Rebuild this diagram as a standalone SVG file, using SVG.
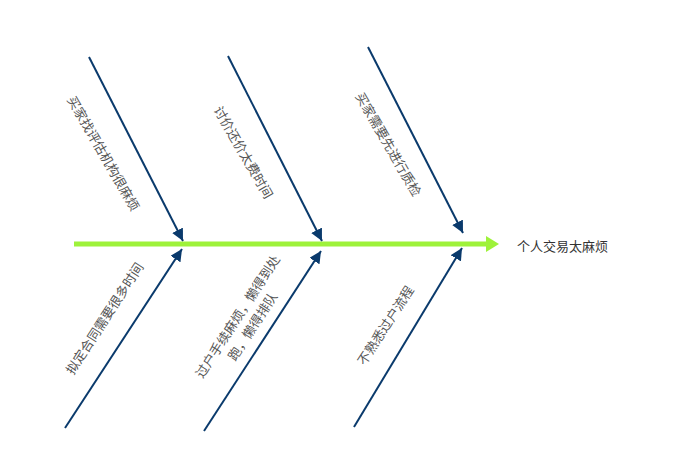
<svg xmlns="http://www.w3.org/2000/svg" width="674" height="463" viewBox="0 0 674 463">
<style>
.b{stroke:#0a3a6c;stroke-width:2;fill:none;marker-end:url(#ah)}
.t{font-family:"Noto Sans CJK SC","Liberation Sans",sans-serif;font-size:13px;fill:#555;text-anchor:middle;dominant-baseline:central}
</style>
<defs>
<marker id="ah" viewBox="0 0 10 10" refX="10" refY="5" markerWidth="6" markerHeight="6" orient="auto" markerUnits="strokeWidth"><path d="M0,0L10,5L0,10z" fill="#0a3a6c"/></marker>
</defs>
<rect width="674" height="463" fill="#fff"/>
<g id="connectors">
<line x1="74" y1="244" x2="488" y2="244" stroke="#9ef23a" stroke-width="5"/>
<path d="M486,236L499,244L486,252z" fill="#9ef23a"/>
<line class="b" x1="89" y1="57" x2="183" y2="241"/>
<line class="b" x1="228" y1="56" x2="322" y2="241"/>
<line class="b" x1="368" y1="47" x2="463" y2="233"/>
<line class="b" x1="65" y1="428" x2="182" y2="249"/>
<line class="b" x1="204" y1="431" x2="321" y2="251"/>
<line class="b" x1="354" y1="427" x2="462" y2="248"/>
</g>
<g id="n1"><text class="t" transform="translate(104,153) rotate(60)">买家找评估机构很麻烦</text></g>
<g id="n2"><text class="t" transform="translate(244,152) rotate(60)">讨价还价太费时间</text></g>
<g id="n3"><text class="t" transform="translate(389,144) rotate(60)">买家需要先进行质检</text></g>
<g id="n4"><text class="t" transform="translate(104,318) rotate(-57)">拟定合同需要很多时间</text></g>
<g id="n5"><text class="t" transform="translate(237,316) rotate(-57)">过户手续麻烦，懒得到处</text><text class="t" transform="translate(252,326) rotate(-57)">跑，懒得排队</text></g>
<g id="n6"><text class="t" transform="translate(385,325) rotate(-57)">不熟悉过户流程</text></g>
<g id="head"><text x="517" y="245" style="font-family:'Noto Sans CJK SC','Liberation Sans',sans-serif;font-size:13px;fill:#333;dominant-baseline:central">个人交易太麻烦</text></g>
</svg>
